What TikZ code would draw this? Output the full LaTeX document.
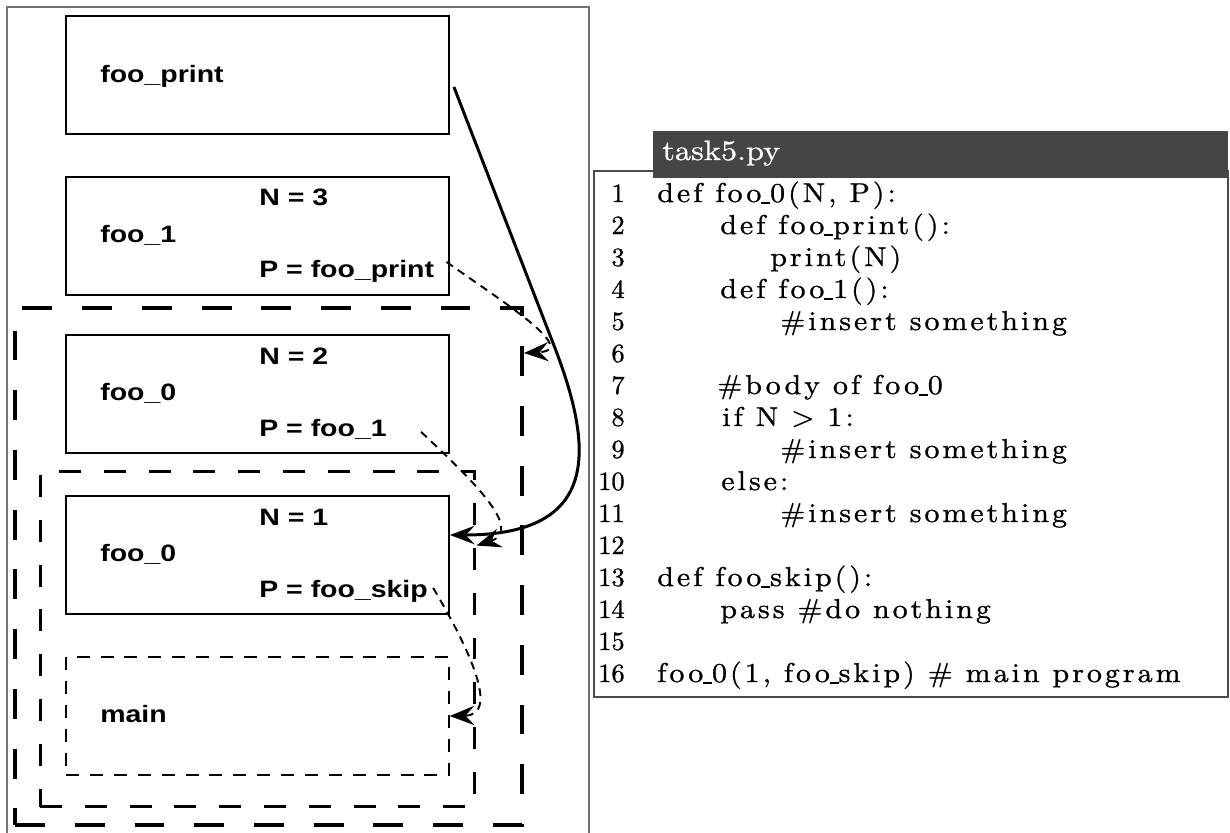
\documentclass[tikz,border=0pt]{standalone}
\usepackage{fontspec}
\usepackage{xcolor}
\usepackage{tikz}
\usetikzlibrary{arrows.meta,calc}
\newfontfamily\lblfont[FakeStretch=1.2]{Liberation Sans}
\newfontfamily\codefont[FakeStretch=1.1,LetterSpace=11,FakeBold=1]{lmroman10-regular.otf}
\newfontfamily\numfont[FakeBold=1]{lmroman10-regular.otf}
\newfontfamily\headfont[FakeStretch=1.15,FakeBold=0.8]{lmroman10-regular.otf}
\newcommand\us{\rule[-0.06em]{0.32em}{0.06em}}
\definecolor{hdrGray}  {gray}{0.27}
\definecolor{frameGray}{gray}{0.45}
\definecolor{codeEdge} {gray}{0.30}

\begin{document}
\begin{tikzpicture}[x=0.02cm, y=-0.02cm,
      fbox/.style={draw=black, line width=1.1pt, minimum width=7.66cm,
                   minimum height=2.36cm, inner sep=0pt},
      mainbox/.style={fbox, line width=0.85pt, dash pattern=on 7.4pt off 6.2pt},
      envouter/.style={draw=black, line width=2.3pt, dash pattern=on 17pt off 17pt,
                       minimum width=10.14cm, minimum height=10.34cm, inner sep=0pt},
      envinner/.style={draw=black, line width=1.7pt, dash pattern=on 12.5pt off 13pt,
                       minimum width=8.7cm, minimum height=6.72cm, inner sep=0pt},
      lbl/.style={anchor=base west, inner sep=0pt,
                  font=\lblfont\bfseries\fontsize{13.5}{16}\selectfont},
      lnum/.style={anchor=base east, inner sep=0pt,
                   font=\numfont\fontsize{15}{18}\selectfont},
      cline/.style={anchor=base west, inner sep=0pt,
                    font=\codefont\fontsize{15.5}{18}\selectfont},
      call/.style={-{Stealth[length=14pt, width=10.5pt, inset=5pt]}, line width=1.7pt},
      link/.style={-{Stealth[length=14pt, width=11pt, inset=5pt]}, line width=1.1pt,
                   dash pattern=on 4.5pt off 3.4pt}]
    \useasboundingbox (0,0) rectangle (1230,832);

    % stack frame area
    \draw[frameGray, line width=0.6pt] (7,845) |- (589,7) -- (589,845);
    \node[envouter] (envA) at (268.5,566.5) {};
    \node[envinner] (envB) at (257.5,639) {};

    \node[fbox] (fooprint) at (257.5,75) {};
    \node[lbl] (fooprint-name) at (100,82) {foo\_print};

    \node[fbox] (foo1) at (257.5,236) {};
    \node[lbl] (foo1-N) at (259,205) {N = 3};
    \node[lbl] (foo1-name) at (100,242) {foo\_1};
    \node[lbl] (foo1-P) at (259,277) {P = foo\_print};

    \node[fbox] (f0a) at (257.5,394) {};
    \node[lbl] (f0a-N) at (259,364) {N = 2};
    \node[lbl] (f0a-name) at (100,400) {foo\_0};
    \node[lbl] (f0a-P) at (259,436) {P = foo\_1};

    \node[fbox] (f0b) at (257.5,555) {};
    \node[lbl] (f0b-N) at (259,525) {N = 1};
    \node[lbl] (f0b-name) at (100,561) {foo\_0};
    \node[lbl] (f0b-P) at (259,597) {P = foo\_skip};

    \node[mainbox] (main) at (257.5,716) {};
    \node[lbl] (main-name) at (100,722) {main};

    % links
    \draw[call] ([shift={(4,12)}]fooprint.east) -- (553,343)
      .. controls (595,450) and (600,535) .. ([shift={(0,-20)}]f0b.east);
    \draw[link] ([shift={(12,-9)}]foo1-P.east)
      .. controls (500,300) and (580,350) .. ([shift={(0,47)}]envA.north east);
    \draw[link] ([shift={(34,3)}]f0a-P.east)
      .. controls (470,478) and (525,530) .. ([shift={(0,76)}]envB.north east);
    \draw[link] ([shift={(5,-3)}]f0b-P.east)
      .. controls (470,650) and (500,715) .. (main.east);

    % code listing
    \node[draw=codeEdge, line width=0.8pt, minimum width=12.68cm,
          minimum height=10.52cm, inner sep=0pt] (code) at (911,434) {};
    \node[fill=hdrGray, minimum width=11.5cm, minimum height=0.94cm,
          inner sep=0pt] (hdr) at (940.5,154.5) {};
    \node[anchor=base west, inner sep=0pt, text=white,
          font=\headfont\fontsize{16}{19}\selectfont] (hdr-name) at (662,160) {task5.py};
    \foreach \n/\cx/\txt in {1/657/{def foo\us0(N, P):}, 2/720/{def foo\us print():},
        3/770/{print(N)}, 4/720/{def foo\us1():}, 5/780/{\#insert something},
        6/657/{}, 7/717/{\#body of foo\us0}, 8/722/{if N > 1:},
        9/780/{\#insert something}, 10/721/{else:}, 11/780/{\#insert something},
        12/657/{}, 13/657/{def foo\us skip():}, 14/720/{pass \#do nothing},
        15/657/{}, 16/657/{foo\us0(1, foo\us skip) \# main program}} {
      \node[lnum] (num\n) at (625,{202+32*(\n-1)}) {\n};
      \node[cline] (line\n) at (\cx,{202+32*(\n-1)}) {\txt};
    }
  \end{tikzpicture}
\end{document}
